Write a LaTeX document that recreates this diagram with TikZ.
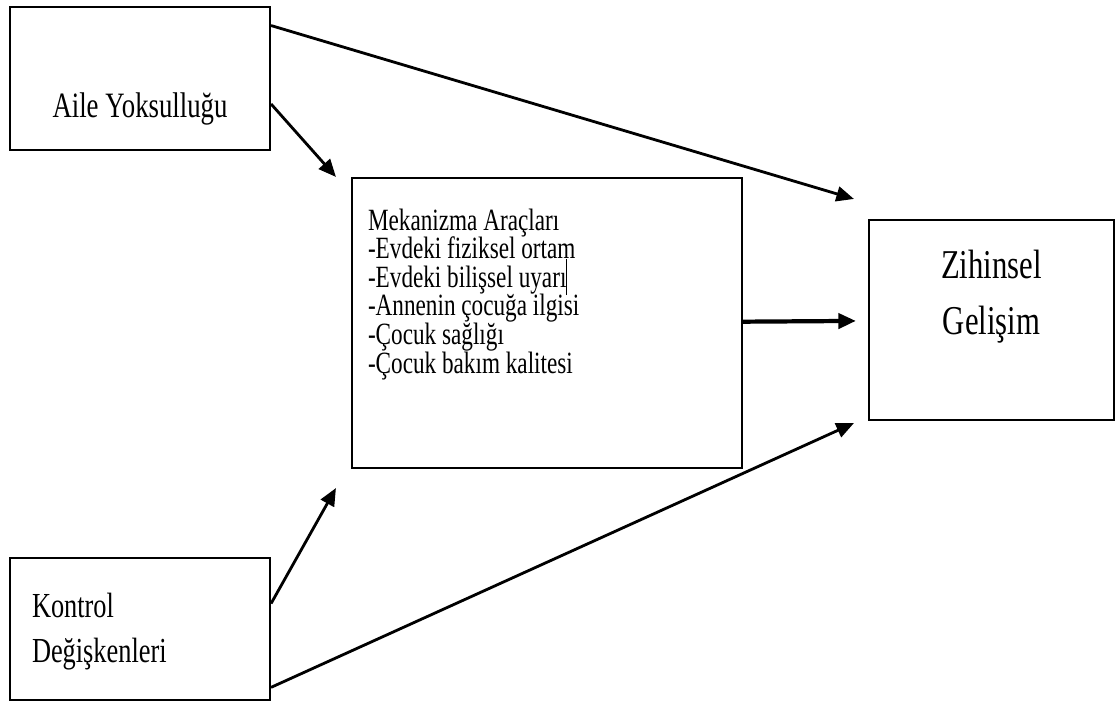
\documentclass[tikz,border=0pt]{standalone}
\usepackage{fontspec}
\setmainfont{Liberation Serif}[FakeStretch=0.75]
\usetikzlibrary{arrows.meta, positioning, calc}

\begin{document}
\begin{tikzpicture}[
    box/.style={draw=black, line width=1.2pt, fill=white, inner sep=0pt},
    arr/.style={-{Triangle[length=10pt, width=8.5pt]}, line width=1.6pt, black}
]
    \useasboundingbox (0,0) rectangle (22.32,-14.08);

    % Boxes
    \node[box, minimum width=5.2cm, minimum height=2.86cm, text height=2.2cm, text depth=0.66cm,
          font=\fontsize{20.3}{24}\selectfont] (aile) at (2.8,-1.57) {Aile Yoksulluğu};

    \node[box, minimum width=7.8cm, minimum height=5.8cm, inner xsep=0.32cm, text width=7.16cm,
          align=flush left, text height=1.04cm, text depth=4.76cm,
          font=\fontsize{17.6}{16.3}\selectfont] (mech) at (10.94,-6.46) {\lineskiplimit=-50pt\relax
        Mekanizma Araçları\\
        -Evdeki fiziksel ortam\\
        -Evdeki bilişsel uyarı\rule[-0.25em]{0.6pt}{1.15em}\\
        -Annenin çocuğa ilgisi\\
        -Çocuk sağlığı\\
        -Çocuk bakım kalitesi
    };

    \node[box, minimum width=4.9cm, minimum height=4cm, text width=4.9cm, align=center,
          text height=1.16cm, text depth=2.84cm,
          font=\fontsize{23.3}{32.3}\selectfont] (zih) at (19.83,-6.4) {Zihinsel\\Gelişim};

    \node[box, minimum width=5.2cm, minimum height=2.84cm, inner xsep=0.44cm, text width=4.32cm,
          align=left, text height=1.18cm, text depth=1.66cm,
          font=\fontsize{20}{26}\selectfont] (kon) at (2.8,-12.58) {Kontrol\\Değişkenleri};

    % Arrows
    \draw[arr] (aile.22) -- ([xshift=-0.28cm, yshift=0.4cm]zih.north west);
    \draw[arr] (aile.-11) -- ([xshift=-0.3cm]mech.north west);
    \draw[arr, line width=2.4pt, shorten >=0.24cm] (mech) -- (zih);
    \draw[arr] (kon.11) -- ([xshift=-0.3cm, yshift=-0.38cm]mech.south west);
    \draw[arr] (kon.-24) -- ([xshift=-0.28cm, yshift=-0.04cm]zih.south west);
\end{tikzpicture}
\end{document}
